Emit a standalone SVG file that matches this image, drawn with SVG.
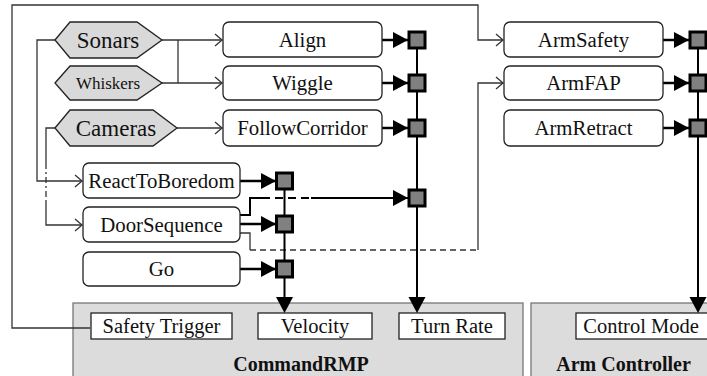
<svg xmlns="http://www.w3.org/2000/svg" width="707" height="376" viewBox="0 0 707 376" font-family="'Liberation Serif', 'Times New Roman', 'DejaVu Serif', serif">
<style>
text{font-family:"Liberation Serif","Times New Roman","DejaVu Serif",serif;fill:#111;text-anchor:middle}
.sensor{fill:#d9d9d9;stroke:#222;stroke-width:1.3}
.beh{fill:#fff;stroke:#222;stroke-width:1.3}
.port{fill:#808080;stroke:#000;stroke-width:3}
.thin{fill:none;stroke:#333;stroke-width:1.3}
.thick{fill:none;stroke:#000;stroke-width:2.5}
.bus{fill:none;stroke:#000;stroke-width:2}
.panel{fill:#dcdcdc;stroke:#777;stroke-width:1.3}
.field{fill:#fff;stroke:#222;stroke-width:1.3}
.b{font-weight:bold}
.bt{font-size:20.8px}
</style>
<defs>
<marker id="open" markerUnits="userSpaceOnUse" viewBox="-8 -7 9 14" refX="0" refY="0" markerWidth="9" markerHeight="14" orient="auto">
<path d="M-7,-6 L0,0 L-7,6" fill="none" stroke="#333" stroke-width="1.3"/>
</marker>
<marker id="tri" markerUnits="userSpaceOnUse" viewBox="0 0 15 16" refX="15" refY="8" markerWidth="15" markerHeight="16" orient="auto">
<path d="M0,0 L15,8 L0,16 Z" fill="#000"/>
</marker>
</defs>

<g id="commandrmp">
<rect class="panel" x="73" y="303" width="450" height="80"/>
<rect class="field" x="91" y="313" width="141" height="26"/><text x="161.5" y="333" font-size="20.5">Safety Trigger</text>
<rect class="field" x="258" y="313" width="114" height="26"/><text x="315" y="333" font-size="20.5">Velocity</text>
<rect class="field" x="399" y="313" width="106" height="26"/><text x="452" y="333" font-size="20.5">Turn Rate</text>
<text class="b" x="301" y="371" font-size="20">CommandRMP</text>
</g>
<g id="armcontroller">
<rect class="panel" x="531" y="303" width="190" height="80"/>
<rect class="field" x="576" y="313" width="140" height="26"/><text x="641" y="333" font-size="20.5">Control Mode</text>
<text class="b" x="623.5" y="371" font-size="20">Arm Controller</text>
</g>

<g id="connectors">
<path class="thin" d="M90,328 H12 V5 H478 V40 H503" marker-end="url(#open)"/>
<path class="thin" d="M162,40 H222" marker-end="url(#open)"/>
<path class="thin" d="M178,40 V83"/>
<path class="thin" d="M162,83 H222" marker-end="url(#open)"/>
<path class="thin" d="M177,128 H222" marker-end="url(#open)"/>
<path class="thin" d="M55,40 H37 V181 H82" marker-end="url(#open)"/>
<path class="thin" d="M55,128 H46 V163"/>
<path class="thin" d="M46,163 V201" style="stroke-dasharray:6,3,2,3"/>
<path class="thin" d="M46,201 V225 H82" marker-end="url(#open)"/>
<path class="thin" d="M240,233 H250 V250"/>
<path class="thin" d="M250,250 H478" style="stroke-dasharray:6,4"/>
<path class="thin" d="M478,250 V83 H503" marker-end="url(#open)"/>
<path class="bus" d="M240,215 H250 V198 H262"/>
<path class="bus" d="M262,198 H311" style="stroke-dasharray:8,5"/>
<path class="bus" d="M311,198 H408" marker-end="url(#tri)"/>
<path class="thick" d="M382,40 H408" marker-end="url(#tri)"/>
<path class="thick" d="M382,83 H408" marker-end="url(#tri)"/>
<path class="thick" d="M382,128 H408" marker-end="url(#tri)"/>
<path class="thick" d="M240,181 H276" marker-end="url(#tri)"/>
<path class="thick" d="M240,224 H276" marker-end="url(#tri)"/>
<path class="thick" d="M240,269 H276" marker-end="url(#tri)"/>
<path class="thick" d="M663,40 H689" marker-end="url(#tri)"/>
<path class="thick" d="M663,83 H689" marker-end="url(#tri)"/>
<path class="thick" d="M663,128 H689" marker-end="url(#tri)"/>
<path class="bus" d="M284.5,181 V298"/>
<path d="M276,297 L293,297 L284.5,313 Z" fill="#000"/>
<path class="bus" d="M417,40 V298"/>
<path d="M408.5,297 L425.5,297 L417,313 Z" fill="#000"/>
<path class="bus" d="M698,40 V298"/>
<path d="M689.5,297 L706.5,297 L698,313 Z" fill="#000"/>
</g>

<g id="port-align"><rect class="port" x="409" y="32" width="16" height="16"/></g>
<g id="port-wiggle"><rect class="port" x="409" y="75" width="16" height="16"/></g>
<g id="port-follow"><rect class="port" x="409" y="120" width="16" height="16"/></g>
<g id="port-door-turn"><rect class="port" x="409" y="190" width="16" height="16"/></g>
<g id="port-react"><rect class="port" x="276.5" y="173" width="16" height="16"/></g>
<g id="port-door"><rect class="port" x="276.5" y="216" width="16" height="16"/></g>
<g id="port-go"><rect class="port" x="276.5" y="261" width="16" height="16"/></g>
<g id="port-armsafety"><rect class="port" x="690" y="32" width="16" height="16"/></g>
<g id="port-armfap"><rect class="port" x="690" y="75" width="16" height="16"/></g>
<g id="port-armretract"><rect class="port" x="690" y="120" width="16" height="16"/></g>

<g id="sonars"><polygon class="sensor" points="55,40 70,22 137,22 162,40 137,58 70,58"/><text x="108" y="48" font-size="23">Sonars</text></g>
<g id="whiskers"><polygon class="sensor" points="55,83 70,66 137,66 162,83 137,100 70,100"/><text x="108" y="89" font-size="17">Whiskers</text></g>
<g id="cameras"><polygon class="sensor" points="55,128 70,110 153,110 177,128 153,146 70,146"/><text x="116" y="136" font-size="23">Cameras</text></g>

<g id="align"><rect class="beh" x="223" y="22" width="159" height="35" rx="6"/><text class="bt" x="302.5" y="47">Align</text></g>
<g id="wiggle"><rect class="beh" x="223" y="66" width="159" height="34" rx="6"/><text class="bt" x="302.5" y="90">Wiggle</text></g>
<g id="followcorridor"><rect class="beh" x="223" y="110" width="159" height="36" rx="6"/><text class="bt" x="302.5" y="135">FollowCorridor</text></g>
<g id="reacttoboredom"><rect class="beh" x="83" y="163" width="157" height="35" rx="6"/><text class="bt" x="161.5" y="188">ReactToBoredom</text></g>
<g id="doorsequence"><rect class="beh" x="83" y="207" width="157" height="35" rx="6"/><text class="bt" x="161.5" y="232">DoorSequence</text></g>
<g id="go"><rect class="beh" x="83" y="252" width="157" height="34" rx="6"/><text class="bt" x="161.5" y="276">Go</text></g>
<g id="armsafety"><rect class="beh" x="504" y="22" width="159" height="35" rx="6"/><text class="bt" x="583.5" y="47">ArmSafety</text></g>
<g id="armfap"><rect class="beh" x="504" y="66" width="159" height="34" rx="6"/><text class="bt" x="583.5" y="90">ArmFAP</text></g>
<g id="armretract"><rect class="beh" x="504" y="110" width="159" height="36" rx="6"/><text class="bt" x="583.5" y="135">ArmRetract</text></g>
</svg>
